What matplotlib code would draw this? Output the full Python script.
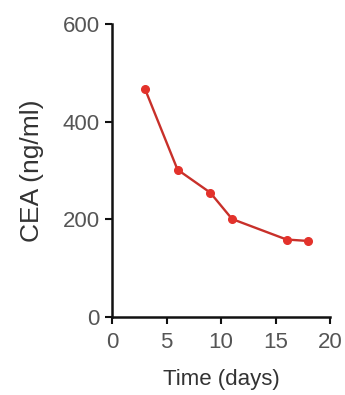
import matplotlib
matplotlib.use("Agg")
import matplotlib.pyplot as plt

# CEA level over time
days = [3, 6, 9, 11, 16, 18]
cea = [468, 302, 255, 201, 159, 156]
x_ticks = [0, 5, 10, 15, 20]
y_ticks = [0, 200, 400, 600]

plt.rcParams['font.family'] = ['Liberation Sans', 'DejaVu Sans']

fig = plt.figure(figsize=(3.45, 3.95), dpi=100)
ax = fig.add_axes([0.325, 0.197, 0.632, 0.742])

ax.plot(days, cea, color='#c8302a', linewidth=1.7, marker='o',
        markersize=5.5, markerfacecolor='#e3322b', markeredgecolor='#e3322b')

ax.set_xlim(0, 20)
ax.set_ylim(0, 600)
ax.set_xticks(x_ticks)
ax.set_yticks(y_ticks)

for side in ('top', 'right'):
    ax.spines[side].set_visible(False)
for side in ('left', 'bottom'):
    ax.spines[side].set_linewidth(1.8)
    ax.spines[side].set_color('#111111')

ax.tick_params(direction='out', length=5, width=1.5, colors='#111111',
               labelsize=16, labelcolor='#555555')
ax.tick_params(axis='x', pad=6)
ax.tick_params(axis='y', pad=4)

ax.set_xlabel('Time (days)', fontsize=16, color='#333333', labelpad=11)
ax.set_ylabel('CEA (ng/ml)', fontsize=19, color='#333333', labelpad=13)

fig.savefig('out.png', dpi=100)
